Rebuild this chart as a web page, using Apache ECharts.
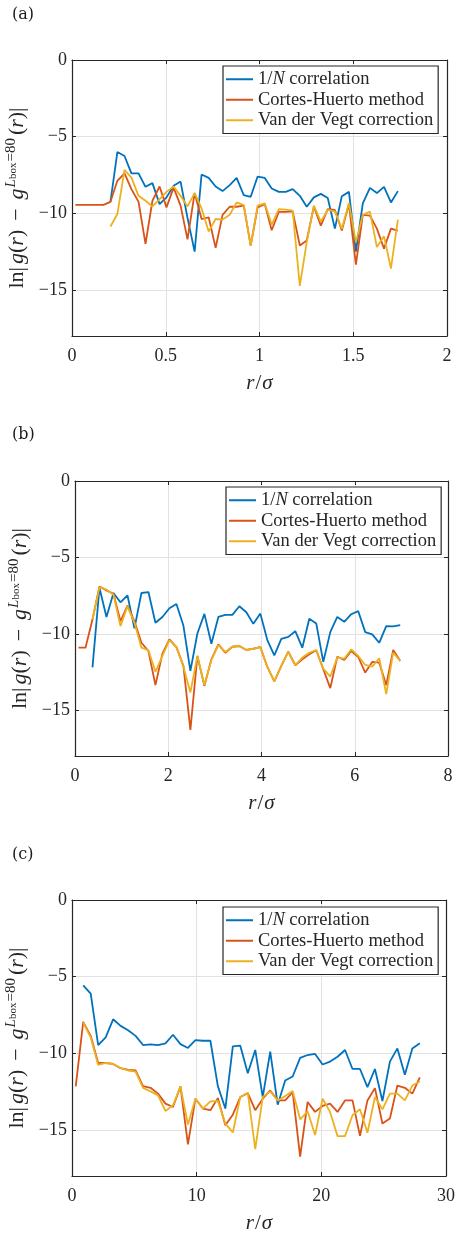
<!DOCTYPE html>
<html>
<head>
<meta charset="utf-8">
<script src="https://cdn.jsdelivr.net/npm/echarts@6/dist/echarts.min.js"></script>
<style>
html,body{margin:0;padding:0;background:#fff;}
#chart{width:456px;height:1234px;}
</style>
</head>
<body>
<div id="chart"></div>
<script>
// ---------- Data ----------
const seriesNames = ['1/N correlation', 'Cortes-Huerto method', 'Van der Vegt correction'];
const panelLabels = ['(a)', '(b)', '(c)'];

// Panel (a)
const xA = [0.018,0.055,0.093,0.130,0.168,0.205,0.242,0.280,0.317,0.355,0.392,0.429,0.467,0.504,0.542,0.579,0.616,0.654,0.691,0.729,0.766,0.803,0.841,0.878,0.916,0.953,0.990,1.028,1.065,1.103,1.140,1.177,1.215,1.252,1.290,1.327,1.364,1.402,1.439,1.477,1.514,1.551,1.589,1.626,1.664,1.701,1.738];
const blueA = [null,null,null,null,null,-9.25,-6.0,-6.26,-7.39,-7.39,-8.27,-8.03,-9.40,-8.96,-8.2,-7.93,-10.3,-12.5,-7.47,-7.69,-8.25,-8.55,-8.16,-7.69,-8.81,-8.92,-7.6,-7.69,-8.38,-8.6,-8.6,-8.42,-8.86,-9.57,-8.96,-8.73,-9.0,-11.0,-8.88,-8.6,-12.5,-9.35,-8.34,-8.68,-8.27,-9.29,-8.55];
const redA = [-9.45,-9.45,-9.45,-9.45,-9.45,-9.25,-7.88,-7.39,-8.42,-9.25,-11.99,-9.18,-8.25,-9.61,-8.32,-9.5,-11.7,-8.68,-10.37,-10.26,-12.25,-10.1,-9.57,-9.57,-9.5,-12.1,-9.61,-9.4,-11.1,-9.9,-9.9,-9.87,-12.1,-11.77,-9.55,-10.8,-9.72,-9.78,-11.12,-9.4,-13.35,-10.1,-10.15,-11.0,-12.3,-11.0,-11.12];
const yellowA = [null,null,null,null,null,-10.86,-10.04,-7.17,-7.67,-8.86,-9.18,-9.55,-9.07,-8.6,-8.25,-8.86,-9.55,-8.68,-9.68,-11.19,-10.37,-10.41,-10.09,-9.29,-9.46,-12.1,-9.5,-9.35,-10.73,-9.72,-9.76,-9.83,-14.73,-11.88,-9.5,-10.54,-9.78,-9.87,-11.0,-9.33,-11.88,-10.1,-9.89,-12.2,-11.5,-13.6,-10.41];

// Panel (b)
const xB = [0.075,0.225,0.375,0.525,0.675,0.825,0.975,1.125,1.275,1.425,1.575,1.725,1.875,2.025,2.175,2.325,2.475,2.625,2.775,2.925,3.075,3.225,3.375,3.525,3.675,3.825,3.975,4.125,4.275,4.425,4.575,4.725,4.875,5.025,5.175,5.325,5.475,5.625,5.775,5.925,6.075,6.225,6.375,6.525,6.675,6.825,6.975];
const blueB = [null,null,-12.2,-7.0,-8.9,-7.33,-7.94,-7.48,-9.65,-7.33,-7.27,-9.28,-8.9,-8.33,-8.05,-9.46,-12.43,-9.98,-8.7,-10.65,-8.9,-8.76,-8.76,-8.2,-8.59,-9.35,-8.68,-10.41,-11.41,-10.33,-10.2,-9.83,-10.91,-9.02,-9.33,-11.84,-9.89,-8.9,-9.22,-8.72,-8.52,-9.89,-10.04,-10.59,-9.5,-9.52,-9.44];
const redB = [-10.91,-10.91,-9.07,-6.9,-7.16,-7.38,-9.18,-8.16,-9.18,-10.59,-11.13,-13.36,-11.3,-10.37,-10.87,-12.1,-16.29,-11.45,-13.41,-11.67,-10.69,-11.24,-10.85,-10.8,-11.06,-10.98,-10.87,-12.17,-13.12,-12.1,-11.17,-12.06,-11.67,-11.34,-11.08,-12.32,-13.56,-11.5,-11.71,-11.13,-11.52,-12.54,-11.84,-11.89,-13.36,-11.06,-11.78];
const yellowB = [null,null,-9.07,-6.94,-7.11,-7.44,-9.5,-8.2,-9.28,-10.91,-11.08,-12.49,-11.45,-10.41,-10.87,-12.15,-13.84,-11.45,-13.36,-11.71,-10.74,-11.19,-10.85,-10.8,-11.06,-10.98,-10.87,-12.17,-13.12,-12.1,-11.19,-12.06,-11.56,-11.24,-11.06,-12.28,-12.8,-11.56,-11.63,-11.02,-11.45,-12.04,-12.15,-11.6,-13.95,-11.24,-11.78];

// Panel (c)
const xC = [0.3,0.9,1.5,2.1,2.7,3.3,3.9,4.5,5.1,5.7,6.3,6.9,7.5,8.1,8.7,9.3,9.9,10.5,11.1,11.7,12.3,12.9,13.5,14.1,14.7,15.3,15.9,16.5,17.1,17.7,18.3,18.9,19.5,20.1,20.7,21.3,21.9,22.5,23.1,23.7,24.3,24.9,25.5,26.1,26.7,27.3,27.9];
const blueC = [null,-5.57,-6.11,-9.46,-8.96,-7.78,-8.21,-8.49,-8.86,-9.46,-9.42,-9.46,-9.35,-8.79,-9.4,-9.65,-9.14,-9.18,-9.18,-12.14,-13.6,-9.55,-9.5,-11.3,-9.78,-12.85,-9.89,-13.35,-11.77,-11.51,-10.3,-10.11,-10.04,-10.73,-10.54,-10.22,-9.78,-11.02,-11.02,-12.2,-11.02,-13.11,-10.54,-9.68,-11.4,-9.68,-9.35];
const redC = [-12.16,-7.95,-8.86,-10.63,-10.63,-10.69,-10.97,-11.08,-11.12,-12.14,-12.25,-12.63,-13.28,-13.5,-12.16,-15.94,-12.96,-13.6,-13.71,-12.92,-14.69,-14.0,-12.85,-12.6,-13.71,-12.96,-12.42,-13.07,-13.07,-12.53,-16.74,-13.17,-13.82,-13.43,-13.28,-13.82,-13.07,-13.07,-15.38,-13.07,-12.27,-14.58,-14.25,-12.1,-12.25,-12.63,-11.56];
const yellowC = [null,-7.99,-8.96,-10.76,-10.63,-10.69,-10.97,-11.12,-11.19,-12.25,-12.48,-12.74,-13.76,-13.39,-12.16,-14.64,-12.96,-13.6,-13.13,-13.11,-14.58,-15.16,-12.85,-12.57,-16.24,-12.85,-12.48,-13.07,-12.79,-12.46,-14.3,-13.78,-15.33,-12.96,-13.82,-15.4,-15.4,-14.04,-13.65,-15.18,-12.85,-13.65,-12.63,-12.63,-13.07,-12.1,-11.84];

// axis ranges / ticks
const xMax = [2, 8, 30];
const xInterval = [0.5, 2, 10];
const yMin = -18, yMax = 0;

// ---------- Layout ----------
const grids = [
  {left: 72, top: 60, width: 375, height: 276, outerBoundsMode: 'none', containLabel: false},
  {left: 75, top: 481, width: 373, height: 275, outerBoundsMode: 'none', containLabel: false},
  {left: 72, top: 900, width: 374, height: 276, outerBoundsMode: 'none', containLabel: false}
];
const legendPos = [
  {left: 223, top: 66},
  {left: 226, top: 487},
  {left: 223, top: 907}
];
const nameGaps = [36, 37, 36];
const labelY = [17, 437, 857];
const colors = ['#0072BD', '#D95319', '#EDB120'];
const FONT = 'Liberation Serif';
const AXC = '#262626';
const TXT = '#262626';

const panels = [
  [xA, [blueA, redA, yellowA]],
  [xB, [blueB, redB, yellowB]],
  [xC, [blueC, redC, yellowC]]
];

function pairs(xs, ys) {
  const out = [];
  for (let i = 0; i < xs.length; i++) if (ys[i] !== null) out.push([xs[i], ys[i]]);
  return out;
}

const xAxes = [], yAxes = [], series = [], legends = [], graphics = [];
const MAINLH = 24, MF = 22;
const yNameRich = {
  n: {fontFamily: FONT, fontSize: MF, color: TXT, lineHeight: MAINLH, verticalAlign: 'bottom'},
  ln: {fontFamily: FONT, fontSize: MF, color: TXT, lineHeight: MAINLH, verticalAlign: 'bottom', padding: [0, 3, 0, 0]},
  op: {fontFamily: FONT, fontSize: MF, color: TXT, lineHeight: MAINLH, verticalAlign: 'bottom', padding: [0, 9, 0, 9]},
  i: {fontFamily: FONT, fontStyle: 'italic', fontSize: MF, color: TXT, lineHeight: MAINLH, verticalAlign: 'bottom'},
  tl: {fontFamily: FONT, fontSize: MF, color: TXT, lineHeight: MAINLH, verticalAlign: 'bottom', padding: [0, 0, 0, 3]},
  sup: {fontFamily: FONT, fontStyle: 'italic', fontSize: 15, color: TXT, verticalAlign: 'top', lineHeight: 14, padding: [0, 0, 0, 1]},
  sub: {fontFamily: FONT, fontSize: 11, color: TXT, verticalAlign: 'top', lineHeight: 12, padding: [4, 1, 0, 0]},
  sn: {fontFamily: FONT, fontSize: 15, color: TXT, verticalAlign: 'top', lineHeight: 14}
};
const yName = '{ln|ln|}{i|g}{n|(}{i|r}{n|)}{op|−}{i|g}{sup|L}{sub|box}{sn|=80}{tl|(}{i|r}{n|)|}';

function tickFmt(v) { return String(v).replace('-', '−'); }

for (let p = 0; p < 3; p++) {
  xAxes.push({
    gridIndex: p, type: 'value', position: 'bottom', min: 0, max: xMax[p], interval: xInterval[p],
    axisLine: {show: true, onZero: false, lineStyle: {color: AXC, width: 1.2}},
    axisTick: {show: true, inside: true, length: 4, lineStyle: {color: AXC, width: 1}},
    axisLabel: {show: true, margin: 11, fontFamily: FONT, fontSize: 18, color: TXT},
    splitLine: {show: true, lineStyle: {color: '#e2e2e2', width: 1}},
    name: '{i|r}{n|/}{i|σ}', nameLocation: 'middle', nameGap: 37,
    nameTextStyle: {rich: {
      i: {fontFamily: FONT, fontStyle: 'italic', fontSize: 21, color: TXT},
      n: {fontFamily: FONT, fontSize: 21, color: TXT, padding: [0, 1, 0, 1]}
    }}
  });
  yAxes.push({
    gridIndex: p, type: 'value', position: 'left', min: yMin, max: yMax, splitNumber: 4,
    axisLine: {show: true, onZero: false, lineStyle: {color: AXC, width: 1.2}},
    axisTick: {show: true, inside: true, length: 4, lineStyle: {color: AXC, width: 1}},
    axisLabel: {show: true, margin: 5, fontFamily: FONT, fontSize: 18, color: TXT, showMinLabel: false, formatter: tickFmt},
    splitLine: {show: true, lineStyle: {color: '#e2e2e2', width: 1}},
    name: yName, nameLocation: 'middle', nameRotate: 90, nameGap: nameGaps[p],
    nameTextStyle: {rich: yNameRich}
  });
}
for (let p = 0; p < 3; p++) {
  xAxes.push({
    gridIndex: p, type: 'value', position: 'top', min: 0, max: xMax[p], interval: xInterval[p],
    axisLine: {show: true, onZero: false, lineStyle: {color: AXC, width: 1.2}},
    axisTick: {show: true, inside: true, length: 4, lineStyle: {color: AXC, width: 1}},
    axisLabel: {show: false}, splitLine: {show: false}
  });
  yAxes.push({
    gridIndex: p, type: 'value', position: 'right', min: yMin, max: yMax, splitNumber: 4,
    axisLine: {show: true, onZero: false, lineStyle: {color: AXC, width: 1.2}},
    axisTick: {show: true, inside: true, length: 4, lineStyle: {color: AXC, width: 1}},
    axisLabel: {show: false}, splitLine: {show: false}
  });
}

for (let p = 0; p < 3; p++) {
  const [xs, ysList] = panels[p];
  for (let s = 0; s < 3; s++) {
    series.push({
      type: 'line', name: seriesNames[s], xAxisIndex: p, yAxisIndex: p,
      data: pairs(xs, ysList[s]), showSymbol: false, symbol: 'none',
      lineStyle: {color: colors[s], width: 1.8}, itemStyle: {color: colors[s]},
      animation: false, z: 3 + s
    });
  }
  legends.push({
    orient: 'vertical', left: legendPos[p].left, top: legendPos[p].top,
    backgroundColor: '#ffffff', borderColor: '#262626', borderWidth: 1.2,
    padding: [3, 5, 3, 3], itemGap: 0, itemWidth: 27, itemHeight: 2, icon: 'rect',
    selectedMode: false,
    data: seriesNames.map((n, k) => ({name: n, itemStyle: {color: colors[k]}})),
    formatter: function (name) {
      if (name === '1/N correlation') return '{n|1/}{i|N}{n| correlation}';
      return '{n|' + name + '}';
    },
    textStyle: {fontFamily: FONT, fontSize: 18.5, color: TXT, lineHeight: 20.5,
      rich: {
        n: {fontFamily: FONT, fontSize: 18.5, color: TXT, lineHeight: 20.5},
        i: {fontFamily: FONT, fontStyle: 'italic', fontSize: 18.5, color: TXT, lineHeight: 20.5}
      }}
  });
  graphics.push({
    type: 'text', left: 12, top: labelY[p] - 10,
    style: {text: panelLabels[p], font: '16px "DejaVu Serif"', fill: '#1a1a1a'}
  });
}

const chart = echarts.init(document.getElementById('chart'), null, {renderer: 'canvas'});
chart.setOption({
  animation: false,
  backgroundColor: '#ffffff',
  grid: grids,
  xAxis: xAxes,
  yAxis: yAxes,
  legend: legends,
  series: series,
  graphic: graphics
});
</script>
</body>
</html>
